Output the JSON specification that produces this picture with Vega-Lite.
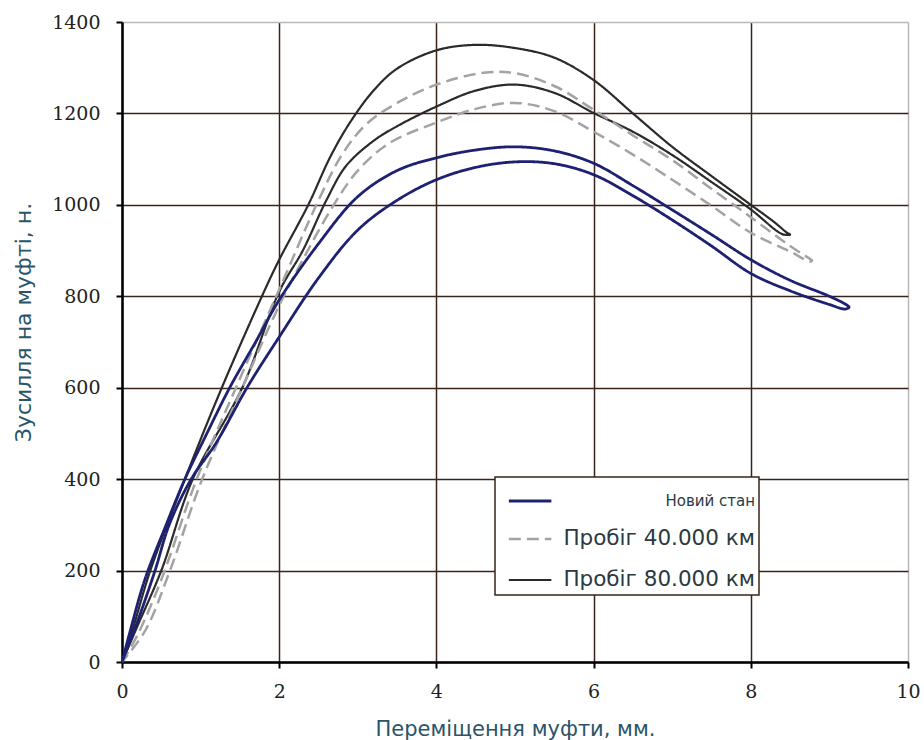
{
"$schema": "https://vega.github.io/schema/vega-lite/v6.json",
"width": 786,
"height": 640,
"autosize": {"type": "none"},
"padding": {"left": 122, "top": 22, "right": 16, "bottom": 78},
"background": "white",
"config": {"view": {"stroke": null}, "font": "DejaVu Sans"},
"data": {"values": [
{"s":"Пробіг 80.000 км","i":0,"x":0,"y":0},
{"s":"Пробіг 80.000 км","i":1,"x":0.15,"y":80},
{"s":"Пробіг 80.000 км","i":2,"x":0.36,"y":200},
{"s":"Пробіг 80.000 км","i":3,"x":0.8,"y":400},
{"s":"Пробіг 80.000 км","i":4,"x":1.27,"y":600},
{"s":"Пробіг 80.000 км","i":5,"x":1.78,"y":800},
{"s":"Пробіг 80.000 км","i":6,"x":2,"y":880},
{"s":"Пробіг 80.000 км","i":7,"x":2.37,"y":1000},
{"s":"Пробіг 80.000 км","i":8,"x":2.65,"y":1105},
{"s":"Пробіг 80.000 км","i":9,"x":2.9,"y":1180},
{"s":"Пробіг 80.000 км","i":10,"x":3.2,"y":1250},
{"s":"Пробіг 80.000 км","i":11,"x":3.5,"y":1298},
{"s":"Пробіг 80.000 км","i":12,"x":4,"y":1338},
{"s":"Пробіг 80.000 км","i":13,"x":4.5,"y":1350},
{"s":"Пробіг 80.000 км","i":14,"x":5,"y":1343},
{"s":"Пробіг 80.000 км","i":15,"x":5.5,"y":1322},
{"s":"Пробіг 80.000 км","i":16,"x":6,"y":1273},
{"s":"Пробіг 80.000 км","i":17,"x":6.5,"y":1200},
{"s":"Пробіг 80.000 км","i":18,"x":7,"y":1127},
{"s":"Пробіг 80.000 км","i":19,"x":7.5,"y":1063},
{"s":"Пробіг 80.000 км","i":20,"x":8,"y":1000},
{"s":"Пробіг 80.000 км","i":21,"x":8.3,"y":962},
{"s":"Пробіг 80.000 км","i":22,"x":8.46,"y":939},
{"s":"Пробіг 80.000 км","i":23,"x":8.5,"y":935},
{"s":"Пробіг 80.000 км","i":24,"x":8.4,"y":936},
{"s":"Пробіг 80.000 км","i":25,"x":8,"y":990},
{"s":"Пробіг 80.000 км","i":26,"x":7.5,"y":1050},
{"s":"Пробіг 80.000 км","i":27,"x":7,"y":1109},
{"s":"Пробіг 80.000 км","i":28,"x":6.5,"y":1160},
{"s":"Пробіг 80.000 км","i":29,"x":6,"y":1201},
{"s":"Пробіг 80.000 км","i":30,"x":5.5,"y":1245},
{"s":"Пробіг 80.000 км","i":31,"x":5,"y":1263},
{"s":"Пробіг 80.000 км","i":32,"x":4.5,"y":1250},
{"s":"Пробіг 80.000 км","i":33,"x":4,"y":1215},
{"s":"Пробіг 80.000 км","i":34,"x":3.5,"y":1172},
{"s":"Пробіг 80.000 км","i":35,"x":3.2,"y":1140},
{"s":"Пробіг 80.000 км","i":36,"x":2.85,"y":1085},
{"s":"Пробіг 80.000 км","i":37,"x":2.6,"y":1010},
{"s":"Пробіг 80.000 км","i":38,"x":2.3,"y":900},
{"s":"Пробіг 80.000 км","i":39,"x":2,"y":810},
{"s":"Пробіг 80.000 км","i":40,"x":1.53,"y":600},
{"s":"Пробіг 80.000 км","i":41,"x":0.9,"y":400},
{"s":"Пробіг 80.000 км","i":42,"x":0.5,"y":200},
{"s":"Пробіг 80.000 км","i":43,"x":0.2,"y":80},
{"s":"Пробіг 80.000 км","i":44,"x":0,"y":0},
{"s":"Пробіг 40.000 км","i":0,"x":0,"y":0},
{"s":"Пробіг 40.000 км","i":1,"x":0.2,"y":60},
{"s":"Пробіг 40.000 км","i":2,"x":0.5,"y":180},
{"s":"Пробіг 40.000 км","i":3,"x":0.95,"y":400},
{"s":"Пробіг 40.000 км","i":4,"x":1.45,"y":600},
{"s":"Пробіг 40.000 км","i":5,"x":2,"y":815},
{"s":"Пробіг 40.000 км","i":6,"x":2.5,"y":1010},
{"s":"Пробіг 40.000 км","i":7,"x":2.8,"y":1110},
{"s":"Пробіг 40.000 км","i":8,"x":3.1,"y":1175},
{"s":"Пробіг 40.000 км","i":9,"x":3.5,"y":1223},
{"s":"Пробіг 40.000 км","i":10,"x":4,"y":1263},
{"s":"Пробіг 40.000 км","i":11,"x":4.6,"y":1289},
{"s":"Пробіг 40.000 км","i":12,"x":5,"y":1288},
{"s":"Пробіг 40.000 км","i":13,"x":5.5,"y":1260},
{"s":"Пробіг 40.000 км","i":14,"x":6,"y":1208},
{"s":"Пробіг 40.000 км","i":15,"x":6.5,"y":1152},
{"s":"Пробіг 40.000 км","i":16,"x":7,"y":1098},
{"s":"Пробіг 40.000 км","i":17,"x":7.5,"y":1035},
{"s":"Пробіг 40.000 км","i":18,"x":8,"y":973},
{"s":"Пробіг 40.000 км","i":19,"x":8.5,"y":910},
{"s":"Пробіг 40.000 км","i":20,"x":8.75,"y":882},
{"s":"Пробіг 40.000 км","i":21,"x":8.78,"y":878},
{"s":"Пробіг 40.000 км","i":22,"x":8.75,"y":876},
{"s":"Пробіг 40.000 км","i":23,"x":8.5,"y":898},
{"s":"Пробіг 40.000 км","i":24,"x":8,"y":939},
{"s":"Пробіг 40.000 км","i":25,"x":7.5,"y":998},
{"s":"Пробіг 40.000 км","i":26,"x":7,"y":1055},
{"s":"Пробіг 40.000 км","i":27,"x":6.5,"y":1110},
{"s":"Пробіг 40.000 км","i":28,"x":6,"y":1160},
{"s":"Пробіг 40.000 км","i":29,"x":5.5,"y":1205},
{"s":"Пробіг 40.000 км","i":30,"x":5,"y":1223},
{"s":"Пробіг 40.000 км","i":31,"x":4.5,"y":1210},
{"s":"Пробіг 40.000 км","i":32,"x":4,"y":1180},
{"s":"Пробіг 40.000 км","i":33,"x":3.4,"y":1135},
{"s":"Пробіг 40.000 км","i":34,"x":3,"y":1075},
{"s":"Пробіг 40.000 км","i":35,"x":2.68,"y":996},
{"s":"Пробіг 40.000 км","i":36,"x":2.3,"y":880},
{"s":"Пробіг 40.000 км","i":37,"x":2,"y":780},
{"s":"Пробіг 40.000 км","i":38,"x":1.53,"y":600},
{"s":"Пробіг 40.000 км","i":39,"x":1.02,"y":400},
{"s":"Пробіг 40.000 км","i":40,"x":0.61,"y":200},
{"s":"Пробіг 40.000 км","i":41,"x":0.3,"y":70},
{"s":"Пробіг 40.000 км","i":42,"x":0,"y":0},
{"s":"Новий стан","i":0,"x":0,"y":0},
{"s":"Новий стан","i":1,"x":0.1,"y":65},
{"s":"Новий стан","i":2,"x":0.29,"y":180},
{"s":"Новий стан","i":3,"x":0.55,"y":295},
{"s":"Новий стан","i":4,"x":0.8,"y":400},
{"s":"Новий стан","i":5,"x":1.08,"y":500},
{"s":"Новий стан","i":6,"x":1.37,"y":600},
{"s":"Новий стан","i":7,"x":1.7,"y":700},
{"s":"Новий стан","i":8,"x":2,"y":792},
{"s":"Новий стан","i":9,"x":2.5,"y":915},
{"s":"Новий стан","i":10,"x":3,"y":1018},
{"s":"Новий стан","i":11,"x":3.5,"y":1075},
{"s":"Новий стан","i":12,"x":4,"y":1103},
{"s":"Новий стан","i":13,"x":4.5,"y":1120},
{"s":"Новий стан","i":14,"x":5,"y":1127},
{"s":"Новий стан","i":15,"x":5.5,"y":1118},
{"s":"Новий стан","i":16,"x":6,"y":1091},
{"s":"Новий стан","i":17,"x":6.5,"y":1042},
{"s":"Новий стан","i":18,"x":7,"y":989},
{"s":"Новий стан","i":19,"x":7.5,"y":935},
{"s":"Новий стан","i":20,"x":8,"y":880},
{"s":"Новий стан","i":21,"x":8.5,"y":835},
{"s":"Новий стан","i":22,"x":9,"y":800},
{"s":"Новий стан","i":23,"x":9.22,"y":781},
{"s":"Новий стан","i":24,"x":9.25,"y":776},
{"s":"Новий стан","i":25,"x":9.2,"y":772},
{"s":"Новий стан","i":26,"x":9,"y":782},
{"s":"Новий стан","i":27,"x":8.5,"y":812},
{"s":"Новий стан","i":28,"x":8,"y":850},
{"s":"Новий стан","i":29,"x":7.5,"y":910},
{"s":"Новий стан","i":30,"x":7,"y":967},
{"s":"Новий стан","i":31,"x":6.5,"y":1020},
{"s":"Новий стан","i":32,"x":6,"y":1066},
{"s":"Новий стан","i":33,"x":5.5,"y":1090},
{"s":"Новий стан","i":34,"x":5,"y":1094},
{"s":"Новий стан","i":35,"x":4.5,"y":1082},
{"s":"Новий стан","i":36,"x":4,"y":1055},
{"s":"Новий стан","i":37,"x":3.5,"y":1010},
{"s":"Новий стан","i":38,"x":3,"y":945},
{"s":"Новий стан","i":39,"x":2.5,"y":840},
{"s":"Новий стан","i":40,"x":2,"y":711},
{"s":"Новий стан","i":41,"x":1.59,"y":600},
{"s":"Новий стан","i":42,"x":1.2,"y":480},
{"s":"Новий стан","i":43,"x":0.88,"y":400},
{"s":"Новий стан","i":44,"x":0.6,"y":300},
{"s":"Новий стан","i":45,"x":0.42,"y":200},
{"s":"Новий стан","i":46,"x":0.2,"y":90},
{"s":"Новий стан","i":47,"x":0,"y":0}
]},
"mark": {"type": "line", "strokeJoin": "round", "interpolate": "catmull-rom"},
"encoding": {
  "x": {"field": "x", "type": "quantitative",
    "scale": {"domain": [0, 10], "nice": false},
    "axis": {"values": [0, 2, 4, 6, 8, 10], "format": "d", "title": "Переміщення муфти, мм.",
      "titleFont": "DejaVu Sans", "titleFontSize": 21, "titleFontWeight": "normal", "titleColor": "#2a5468", "titlePadding": 17,
      "labelFont": "DejaVu Serif", "labelFontSize": 19, "labelColor": "#222", "labelPadding": 14, "labelFlush": false,
      "tickSize": 6, "tickWidth": 2, "tickColor": "#000",
      "domainColor": "#000", "domainWidth": 2.5,
      "grid": true, "gridWidth": 1.5,
      "gridColor": {"condition": {"test": "datum.value == 10", "value": "#b8b8b8"}, "value": "#3a2418"}}},
  "y": {"field": "y", "type": "quantitative",
    "scale": {"domain": [0, 1400], "nice": false},
    "axis": {"values": [0, 200, 400, 600, 800, 1000, 1200, 1400], "format": "d", "title": "Зусилля на муфті, н.",
      "titleFont": "DejaVu Sans", "titleFontSize": 22, "titleFontWeight": "normal", "titleColor": "#2a5468", "titlePadding": 16, "titleY": 300,
      "labelFont": "DejaVu Serif", "labelFontSize": 19, "labelColor": "#222", "labelPadding": 16,
      "tickSize": 6, "tickWidth": 2, "tickColor": "#000",
      "domainColor": "#000", "domainWidth": 2.5,
      "grid": true, "gridWidth": 1.5,
      "gridColor": {"condition": {"test": "datum.value == 1400", "value": "#b8b8b8"}, "value": "#3a2418"}}},
  "order": {"field": "i", "type": "quantitative"},
  "color": {"field": "s", "type": "nominal", "title": null,
    "scale": {"domain": ["Новий стан", "Пробіг 40.000 км", "Пробіг 80.000 км"], "range": ["#1e2172", "#a3a3a3", "#2a2a2a"]},
    "legend": {"orient": "none", "legendX": 373, "legendY": 455, "title": null,
      "symbolType": "M-0.55,0H1.75", "symbolSize": 1369, "rowPadding": 10, "padding": 4,
      "labelAlign": "right", "labelOffset": 216, "labelFont": "DejaVu Sans", "labelFontSize": 21.5, "labelColor": "#2a3a40", "labelLimit": 400,
      "fillColor": "white", "strokeColor": "#3a2418",
      "encode": {
        "labels": {"update": {"fontSize": {"signal": "datum.value === 'Новий стан' ? 15 : 21.5"}}},
        "legend": {"update": {"strokeWidth": {"value": 1.5}}}}}},
  "strokeDash": {"field": "s", "type": "nominal", "title": null,
    "scale": {"domain": ["Новий стан", "Пробіг 40.000 км", "Пробіг 80.000 км"], "range": [[1, 0], [12, 6], [1, 0]]}},
  "strokeWidth": {"field": "s", "type": "nominal", "title": null,
    "scale": {"domain": ["Новий стан", "Пробіг 40.000 км", "Пробіг 80.000 км"], "range": [2.8, 2.2, 1.2]}}
}
}
